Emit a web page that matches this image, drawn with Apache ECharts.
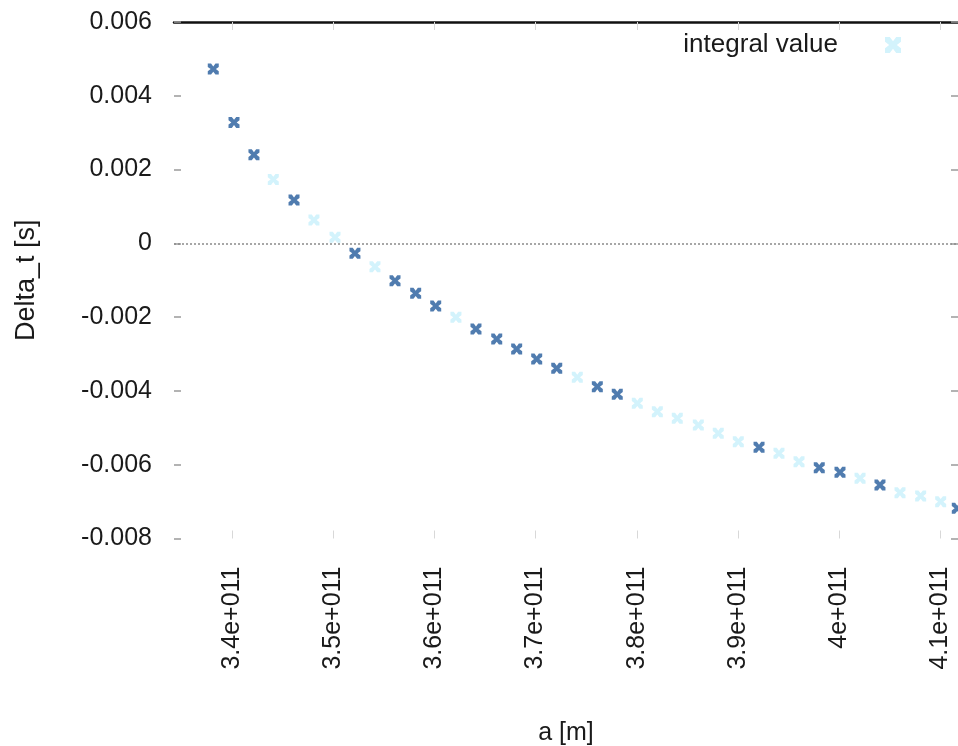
<!DOCTYPE html>
<html>
<head>
<meta charset="utf-8">
<script src="https://cdn.jsdelivr.net/npm/echarts@6/dist/echarts.min.js"></script>
<style>
html,body{margin:0;padding:0;background:#fff;}
#chart{width:958px;height:746px;}
</style>
</head>
<body>
<div id="chart"></div>
<script>
// ---- data ----
const seriesName = 'integral value';
const xTickValues = [3.4e11, 3.5e11, 3.6e11, 3.7e11, 3.8e11, 3.9e11, 4.0e11, 4.1e11];
const xTickLabels = ['3.4e+011', '3.5e+011', '3.6e+011', '3.7e+011', '3.8e+011', '3.9e+011', '4e+011', '4.1e+011'];
const yTickValues = [-0.008, -0.006, -0.004, -0.002, 0, 0.002, 0.004, 0.006];
const yTickLabels = ['-0.008', '-0.006', '-0.004', '-0.002', '0', '0.002', '0.004', '0.006'];

// points drawn dark
const darkX = [3.3815e11, 3.4020e11, 3.4217e11, 3.4613e11, 3.5215e11, 3.5611e11, 3.5815e11, 3.6013e11,
  3.6411e11, 3.6616e11, 3.6813e11, 3.7011e11, 3.7209e11, 3.7610e11, 3.7807e11, 3.9208e11,
  3.9803e11, 4.0008e11, 4.0403e11, 4.1167e11];
const darkY = [0.004724, 0.003279, 0.002401, 0.001173, -0.000271, -0.001014, -0.001355, -0.001699,
  -0.002322, -0.002593, -0.002864, -0.003136, -0.003388, -0.003886, -0.004092, -0.005528,
  -0.006081, -0.006206, -0.006550, -0.007182];
// points drawn pale
const lightX = [3.4408e11, 3.4810e11, 3.5018e11, 3.5413e11, 3.6213e11, 3.7412e11, 3.8005e11, 3.8203e11,
  3.8400e11, 3.8608e11, 3.8805e11, 3.9003e11, 3.9405e11, 3.9603e11, 4.0206e11, 4.0601e11,
  4.0805e11, 4.1003e11];
const lightY = [0.001734, 0.000631, 0.000163, -0.000634, -0.002005, -0.003631, -0.004336, -0.004564,
  -0.004743, -0.004924, -0.005149, -0.005377, -0.005691, -0.005919, -0.006369, -0.006759,
  -0.006848, -0.007003];

const X_MIN = 3.3427e11, X_MAX = 4.1174e11;
const Y_MIN = -0.008, Y_MAX = 0.006, Y_STEP = 0.002;

const FONT = "'Liberation Sans', Arial, sans-serif";
const TXT = '#1a1a1a';
const xMark = 'path://M0,0 L3,0 L5,2.6 L7,0 L10,0 L10,3 L7.4,5 L10,7 L10,10 L7,10 L5,7.4 L3,10 L0,10 L0,7 L2.6,5 L0,3 Z';

const chart = echarts.init(document.getElementById('chart'), null, {renderer: 'canvas'});

function xLabel(v) {
  const i = xTickValues.findIndex(t => Math.abs(t - v) < 1e6);
  return i >= 0 ? xTickLabels[i] : '';
}
function yLabel(v) {
  const i = yTickValues.findIndex(t => Math.abs(t - v) < 1e-9);
  return i >= 0 ? yTickLabels[i] : '';
}

const option = {
  animation: false,
  backgroundColor: '#ffffff',
  grid: {left: 174, right: 0, top: 22, bottom: 207.5, outerBoundsMode: 'none', containLabel: false},
  legend: {
    data: [seriesName],
    right: 52, top: 27,
    align: 'right',
    itemWidth: 16, itemHeight: 16,
    textStyle: {fontFamily: FONT, fontSize: 26, color: TXT, padding: [0, 42, 0, 0]},
    icon: xMark,
    selectedMode: false
  },
  xAxis: [{
    type: 'value', min: X_MIN, max: X_MAX, position: 'bottom',
    axisLine: {show: false, onZero: false},
    splitLine: {show: false},
    axisTick: {show: true, inside: true, length: 8, customValues: xTickValues, lineStyle: {color: '#d8d8d8', width: 1}},
    axisLabel: {customValues: xTickValues, rotate: 90, margin: 28, formatter: xLabel,
      fontFamily: FONT, fontSize: 25, color: TXT},
    name: 'a [m]', nameLocation: 'middle', nameGap: 182,
    nameTextStyle: {fontFamily: FONT, fontSize: 25, color: TXT}
  }, {
    type: 'value', min: X_MIN, max: X_MAX, position: 'top',
    axisLine: {show: true, onZero: false, lineStyle: {color: '#111', width: 2.5}},
    splitLine: {show: false},
    axisTick: {show: true, inside: true, length: 8, customValues: xTickValues, lineStyle: {color: '#d8d8d8', width: 1}},
    axisLabel: {show: false}
  }],
  yAxis: [{
    type: 'value', min: Y_MIN, max: Y_MAX, interval: Y_STEP, position: 'left',
    axisLine: {show: false, onZero: false},
    splitLine: {show: false},
    axisTick: {show: true, inside: true, length: 7, lineStyle: {color: '#9a9a9a', width: 1.5}},
    axisLabel: {margin: 22, formatter: yLabel, fontFamily: FONT, fontSize: 25, color: TXT, padding: [0, 0, 6, 0]},
    name: 'Delta_t [s]', nameLocation: 'middle', nameGap: 134, nameRotate: 90,
    nameTextStyle: {fontFamily: FONT, fontSize: 27, color: TXT}
  }, {
    type: 'value', min: Y_MIN, max: Y_MAX, interval: Y_STEP, position: 'right',
    axisLine: {show: false, onZero: false},
    splitLine: {show: false},
    axisTick: {show: true, inside: true, length: 7, lineStyle: {color: '#9a9a9a', width: 1.5}},
    axisLabel: {show: false}
  }],
  series: [{
    name: seriesName,
    type: 'scatter',
    symbol: xMark,
    symbolSize: 11,
    clip: false,
    itemStyle: {color: '#d3f3fc', opacity: 1},
    data: lightX.map((x, i) => [x, lightY[i]]),
    markLine: {
      silent: true, symbol: 'none', label: {show: false},
      lineStyle: {type: [2, 2], color: '#8a8a8a', width: 1.5},
      data: [{yAxis: 0}]
    },
    z: 2
  }, {
    name: 'dark',
    type: 'scatter',
    symbol: xMark,
    symbolSize: 11,
    clip: false,
    itemStyle: {color: '#245b9b'},
    data: darkX.map((x, i) => [x, darkY[i]]),
    z: 3
  }]
};
chart.setOption(option);
</script>
</body>
</html>
